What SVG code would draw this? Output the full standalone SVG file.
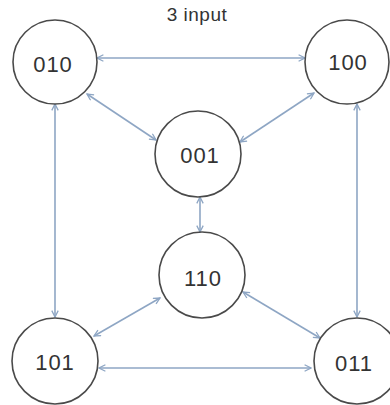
<svg xmlns="http://www.w3.org/2000/svg" width="390" height="405" viewBox="0 0 390 405">
<style>
.node circle{fill:#ffffff;stroke:#4a4a4a;stroke-width:1.6}
.node text{font-family:"Liberation Sans",Arial,sans-serif;font-size:22px;letter-spacing:1px;fill:#333333;text-anchor:middle;dominant-baseline:central}
.edge{stroke:#8ea6c4;stroke-width:1.6;fill:none;marker-start:url(#ah);marker-end:url(#ah)}
.title{font-family:"Liberation Sans",Arial,sans-serif;font-size:19px;letter-spacing:0.5px;fill:#333333;text-anchor:middle}
</style>
<defs>
<marker id="ah" viewBox="0 0 10 10" refX="9" refY="5" markerWidth="5" markerHeight="5" orient="auto-start-reverse">
<path d="M1,1 L9,5 L1,9" fill="none" stroke="#8ea6c4" stroke-width="1.6"/>
</marker>
</defs>
<rect width="390" height="405" fill="#ffffff"/>
<text class="title" x="197" y="21">3 input</text>
<g id="connectors">
<line class="edge" x1="97" y1="58" x2="305" y2="58"/>
<line class="edge" x1="87" y1="94" x2="156" y2="140"/>
<line class="edge" x1="314" y1="93" x2="240" y2="142"/>
<line class="edge" x1="200" y1="197" x2="200" y2="232"/>
<line class="edge" x1="55" y1="104" x2="55" y2="317"/>
<line class="edge" x1="357" y1="104" x2="357" y2="317"/>
<line class="edge" x1="160" y1="298" x2="94" y2="336"/>
<line class="edge" x1="243" y1="292" x2="320" y2="338"/>
<line class="edge" x1="99" y1="368" x2="311" y2="368"/>
</g>
<g id="n010" class="node"><circle cx="55" cy="62" r="42"/><text x="53" y="64">010</text></g>
<g id="n100" class="node"><circle cx="347" cy="62" r="42"/><text x="348" y="62">100</text></g>
<g id="n001" class="node"><circle cx="198" cy="154" r="43"/><text x="200" y="155">001</text></g>
<g id="n110" class="node"><circle cx="202" cy="275" r="43"/><text x="203" y="278">110</text></g>
<g id="n101" class="node"><circle cx="55" cy="361" r="43"/><text x="55" y="362">101</text></g>
<g id="n011" class="node"><circle cx="357" cy="361" r="43"/><text x="354" y="363">011</text></g>
</svg>
